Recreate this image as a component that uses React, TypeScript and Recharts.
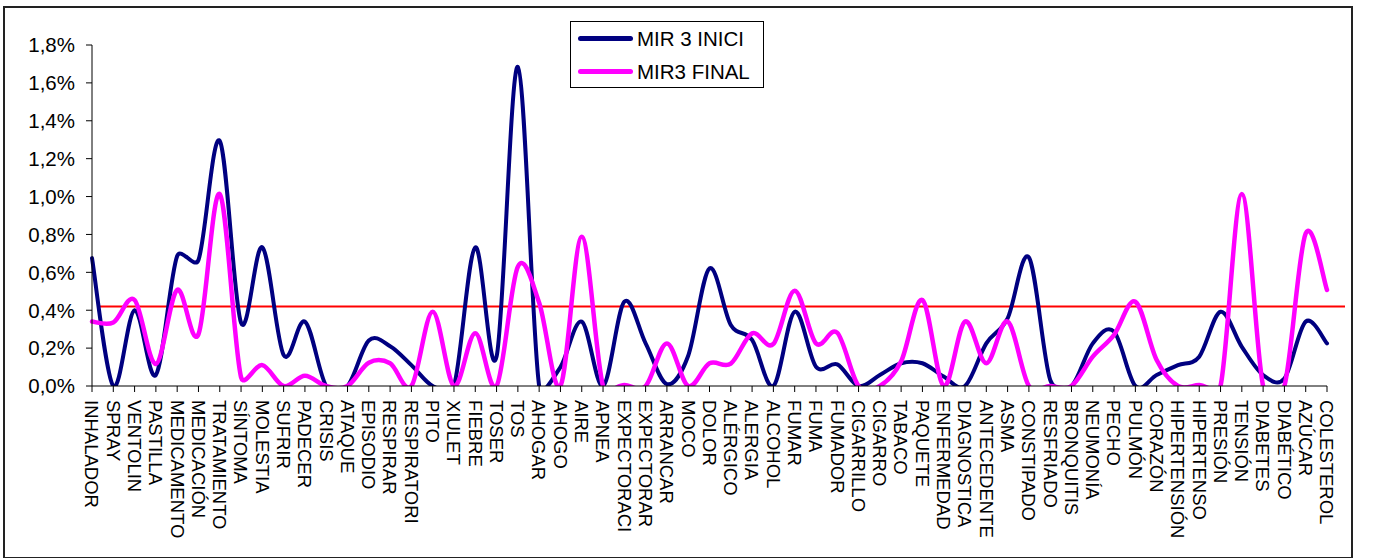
import React from 'react';
import {
  LineChart,
  Line,
  XAxis,
  YAxis,
  ReferenceLine,
  Legend
} from 'recharts';

// words (x axis)
const categories = [
  'INHALADOR', 'SPRAY', 'VENTOLIN', 'PASTILLA', 'MEDICAMENTO', 'MEDICACIÓN', 'TRATAMIENTO',
  'SÍNTOMA', 'MOLESTIA', 'SUFRIR', 'PADECER', 'CRISIS', 'ATAQUE', 'EPISODIO', 'RESPIRAR',
  'RESPIRATORI', 'PITO', 'XIULET', 'FIEBRE', 'TOSER', 'TOS', 'AHOGAR', 'AHOGO', 'AIRE',
  'APNEA', 'EXPECTORACI', 'EXPECTORAR', 'ARRANCAR', 'MOCO', 'DOLOR', 'ALÉRGICO', 'ALERGIA',
  'ALCOHOL', 'FUMAR', 'FUMA', 'FUMADOR', 'CIGARRILLO', 'CIGARRO', 'TABACO', 'PAQUETE',
  'ENFERMEDAD', 'DIAGNOSTICA', 'ANTECEDENTE', 'ASMA', 'CONSTIPADO', 'RESFRIADO', 'BRONQUITIS',
  'NEUMONÍA', 'PECHO', 'PULMÓN', 'CORAZÓN', 'HIPERTENSIÓN', 'HIPERTENSO', 'PRESIÓN', 'TENSIÓN',
  'DIABETES', 'DIABÉTICO', 'AZÚCAR', 'COLESTEROL'
];

// values in percent
const mir3Inici = [
  0.675, 0, 0.4, 0.058, 0.686, 0.665, 1.294,
  0.334, 0.732, 0.164, 0.34, 0, 0, 0.24, 0.21,
  0.11, 0, 0, 0.732, 0.155, 1.685, 0, 0.1, 0.34,
  0, 0.445, 0.225, 0.01, 0.16, 0.621, 0.322, 0.243,
  0, 0.392, 0.102, 0.114, 0, 0.058, 0.12, 0.12,
  0.05, 0, 0.225, 0.357, 0.679, 0.032, 0,
  0.225, 0.287, 0, 0.058, 0.11, 0.155, 0.392, 0.207,
  0.058, 0.04, 0.34, 0.225
];

const mir3Final = [
  0.34, 0.335, 0.454, 0.116, 0.507, 0.273, 1.013,
  0.047, 0.11, 0, 0.054, 0, 0, 0.123, 0.12,
  0, 0.392, 0, 0.278, 0, 0.63, 0.44, 0, 0.788,
  0, 0.005, 0, 0.225, 0, 0.12, 0.118, 0.278,
  0.222, 0.503, 0.225, 0.281, 0, 0, 0.13, 0.454,
  0, 0.34, 0.12, 0.34, 0, 0, 0,
  0.155, 0.27, 0.445, 0.137, 0, 0.005, 0, 1.013,
  0, 0, 0.806, 0.507
];

const yTicks = [0, 0.2, 0.4, 0.6, 0.8, 1.0, 1.2, 1.4, 1.6, 1.8];
const threshold = 0.42;

const series = [
  { key: 'inici', name: 'MIR 3 INICI', color: '#000080', values: mir3Inici, width: 4 },
  { key: 'final', name: 'MIR3 FINAL', color: '#FF00FF', values: mir3Final, width: 4.5 }
];

const data = categories.map((word, i) => ({
  word,
  inici: mir3Inici[i],
  final: mir3Final[i]
}));

const FONT = '"Liberation Sans", Arial, sans-serif';

// excel-like smoothed line: catmull-rom, control arms capped at half the segment
function excelSmooth(context: any) {
  let pts: number[][] = [];
  const arm = (dx: number, dy: number, max: number) => {
    const len = Math.hypot(dx, dy);
    if (len > max && len > 0) {
      const k = max / len;
      return [dx * k, dy * k];
    }
    return [dx, dy];
  };
  return {
    areaStart() {},
    areaEnd() {},
    lineStart() {
      pts = [];
    },
    point(x: number, y: number) {
      pts.push([+x, +y]);
    },
    lineEnd() {
      const n = pts.length;
      if (!n) return;
      context.moveTo(pts[0][0], pts[0][1]);
      for (let i = 0; i < n - 1; i++) {
        const p0 = pts[Math.max(i - 1, 0)];
        const p1 = pts[i];
        const p2 = pts[i + 1];
        const p3 = pts[Math.min(i + 2, n - 1)];
        const half = Math.hypot(p2[0] - p1[0], p2[1] - p1[1]) / 2;
        const a = arm((p2[0] - p0[0]) / 6, (p2[1] - p0[1]) / 6, half);
        const b = arm((p3[0] - p1[0]) / 6, (p3[1] - p1[1]) / 6, half);
        context.bezierCurveTo(p1[0] + a[0], p1[1] + a[1], p2[0] - b[0], p2[1] - b[1], p2[0], p2[1]);
      }
    }
  };
}

const pct = (v: number) => `${v.toFixed(1).replace('.', ',')}%`;

const XTick = ({ x, y, payload }: any) => (
  <text
    x={x}
    y={y}
    transform={`rotate(90, ${x}, ${y})`}
    dy="0.36em"
    textAnchor="start"
    fontFamily={FONT}
    fontSize={18.5}
    fill="#000"
  >
    {payload.value}
  </text>
);

const YTick = ({ x, y, payload }: any) => (
  <text x={x} y={y} dy="0.36em" textAnchor="end" fontFamily={FONT} fontSize={20.5} fill="#000">
    {pct(payload.value)}
  </text>
);

// red line runs a bit past the plot on the right, like the original
const ThresholdLine = (props: any) => {
  const { x1, y1, x2, y2 } = props;
  return <line x1={x1 + 5} y1={y1} x2={x2 + 18} y2={y2} stroke="#FF0000" strokeWidth={2} />;
};

const LegendBox = ({ payload }: any) => (
  <div
    style={{
      border: '1px solid #000',
      background: '#fff',
      width: 194,
      height: 67,
      boxSizing: 'border-box',
      fontFamily: FONT,
      fontSize: 20.5,
      color: '#000'
    }}
  >
    {(payload || []).map((p: any) => (
      <div key={p.value} style={{ display: 'flex', alignItems: 'center', height: 33, lineHeight: '33px' }}>
        <span
          style={{
            display: 'inline-block',
            width: 55,
            height: 5,
            borderRadius: 3,
            background: p.color,
            marginLeft: 7,
            marginRight: 4
          }}
        />
        <span>{p.value}</span>
      </div>
    ))}
  </div>
);

export default function App() {
  return (
    <div style={{ position: 'absolute', left: 0, top: 0, width: 1377, height: 558, background: '#fff' }}>
      <div
        style={{
          position: 'absolute',
          left: 3,
          top: 6,
          width: 1350,
          height: 553,
          border: '2px solid #222',
          boxSizing: 'border-box'
        }}
      />
      <div style={{ position: 'absolute', left: 0, top: 0 }}>
        <LineChart
          width={1377}
          height={558}
          data={data}
          margin={{ top: 45, right: 50, left: 12, bottom: 12 }}
        >
          <XAxis
            dataKey="word"
            scale="point"
            interval={0}
            height={160}
            tickSize={6}
            tickMargin={8}
            tick={<XTick />}
            axisLine={{ stroke: '#000' }}
            tickLine={{ stroke: '#000' }}
          />
          <YAxis
            width={80}
            domain={[0, 1.8]}
            ticks={yTicks}
            allowDataOverflow
            tickSize={6}
            tickMargin={11}
            tick={<YTick />}
            axisLine={{ stroke: '#000' }}
            tickLine={{ stroke: '#000' }}
          />
          <ReferenceLine y={threshold} shape={ThresholdLine} />
          {series.map((s) => (
            <Line
              key={s.key}
              dataKey={s.key}
              name={s.name}
              type={excelSmooth as any}
              stroke={s.color}
              strokeWidth={s.width}
              strokeLinecap="round"
              strokeLinejoin="round"
              dot={false}
              activeDot={false}
              isAnimationActive={false}
            />
          ))}
          <Legend
            layout="vertical"
            verticalAlign="middle"
            align="center"
            wrapperStyle={{ left: 570, top: 21, width: 194, height: 67 }}
            content={(props: any) => <LegendBox payload={props.payload} />}
          />
        </LineChart>
      </div>
    </div>
  );
}
